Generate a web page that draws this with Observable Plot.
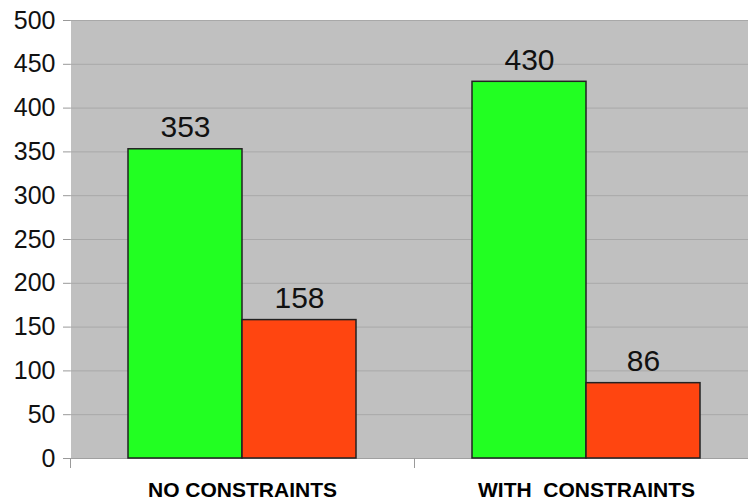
<!DOCTYPE html>
<html>
<head>
<meta charset="utf-8">
<script src="https://cdn.jsdelivr.net/npm/d3@7"></script>
<script src="https://cdn.jsdelivr.net/npm/@observablehq/plot@0.6"></script>
<style>
  html, body { margin: 0; padding: 0; background: #fff; overflow: hidden; }
  #chart svg { overflow: hidden; display: block; }
</style>
</head>
<body>
<div id="chart"></div>
<script>
const groups = ["NO CONSTRAINTS", "WITH  CONSTRAINTS"];
const seriesNames = ["series1", "series2"];
const series1Values = [353, 430];
const series2Values = [158, 86];
const seriesColors = ["#22ff22", "#ff4510"];
const yTicks = [0, 50, 100, 150, 200, 250, 300, 350, 400, 450, 500];

const rows = [];
groups.forEach((g, i) => {
  rows.push({group: g, series: seriesNames[0], value: series1Values[i]});
  rows.push({group: g, series: seriesNames[1], value: series2Values[i]});
});

const chart = Plot.plot({
  width: 748,
  height: 502,
  marginLeft: 70,
  marginRight: 0,
  marginTop: 20,
  marginBottom: 44,
  style: {fontFamily: "'Liberation Sans', Arial, sans-serif", background: "#fff", color: "#111"},
  fx: {domain: groups, padding: 0, range: [70, 758]},
  x: {domain: seriesNames, paddingInner: 0, paddingOuter: 0.5, axis: null},
  y: {domain: [0, 500], axis: null},
  color: {domain: seriesNames, range: seriesColors},
  marks: [
    Plot.frame({fill: "#c0c0c0", stroke: null, shapeRendering: "crispEdges"}),
    Plot.gridY(yTicks, {stroke: "#a8a8a8", strokeOpacity: 1, strokeWidth: 1}),
    Plot.ruleY([0], {stroke: "#a0a0a0", strokeWidth: 1}),
    Plot.frame({anchor: "left", stroke: "#9a9a9a", insetTop: 438, insetBottom: -9}),
    Plot.axisY(yTicks, {tickSize: 7, tickPadding: 8, stroke: "#999", fill: "#111", fontSize: 25, label: null}),
    Plot.barY(rows, {fx: "group", x: "series", y: "value", fill: "series", stroke: "#222", strokeWidth: 1.5, inset: 0}),
    Plot.text(rows, {fx: "group", x: "series", y: "value", text: d => String(d.value), lineAnchor: "bottom", dy: -12, fontSize: 30, fill: "#111"}),
    Plot.axisFx({anchor: "bottom", tickSize: 0, tickPadding: 24, fontSize: 21, fontWeight: "bold", fill: "#000", label: null})
  ]
});
document.getElementById("chart").appendChild(chart);
</script>
</body>
</html>
